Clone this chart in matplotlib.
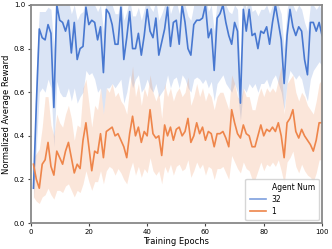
import numpy as np
import matplotlib
matplotlib.use("Agg")
import matplotlib.pyplot as plt
from matplotlib.lines import Line2D

### Data (epochs 1..100)
epochs = np.arange(1, 101)

# Agent Num = 32
mean_32 = [0.16, 0.55, 0.89, 0.85, 0.84, 0.91, 0.87, 0.53, 1.00, 0.93,
           0.92, 0.88, 0.93, 0.78, 0.92, 0.75, 0.80, 0.81, 0.99, 0.91,
           0.93, 0.92, 0.84, 0.90, 0.69, 0.98, 0.96, 0.91, 0.82, 0.82,
           0.99, 0.75, 0.85, 0.97, 0.80, 0.80, 0.87, 0.77, 0.86, 0.98,
           0.88, 0.85, 0.94, 0.77, 0.83, 0.89, 0.99, 0.81, 0.92, 0.93,
           0.82, 1.00, 0.92, 0.80, 0.77, 0.91, 0.93, 0.93, 0.94, 1.00,
           0.85, 0.89, 0.70, 0.94, 0.96, 1.00, 0.92, 0.86, 0.82, 0.92,
           0.88, 0.55, 0.98, 0.88, 0.98, 0.86, 0.87, 0.80, 0.88, 0.87,
           0.90, 0.82, 0.92, 1.00, 0.92, 0.84, 0.64, 0.86, 0.98, 0.90,
           0.86, 0.90, 0.88, 0.75, 0.68, 0.92, 0.92, 0.88, 0.92, 0.86]
lo_32 = [0.11, 0.35, 0.60, 0.62, 0.60, 0.66, 0.62, 0.35, 0.65, 0.60,
         0.58, 0.58, 0.62, 0.56, 0.62, 0.55, 0.58, 0.60, 0.70, 0.68,
         0.69, 0.66, 0.60, 0.62, 0.50, 0.62, 0.62, 0.64, 0.62, 0.64,
         0.66, 0.55, 0.60, 0.68, 0.62, 0.66, 0.68, 0.60, 0.62, 0.66,
         0.62, 0.60, 0.64, 0.58, 0.60, 0.62, 0.68, 0.62, 0.66, 0.67,
         0.62, 0.68, 0.66, 0.62, 0.60, 0.66, 0.67, 0.66, 0.64, 0.66,
         0.62, 0.65, 0.56, 0.64, 0.66, 0.68, 0.64, 0.62, 0.60, 0.64,
         0.60, 0.47, 0.62, 0.60, 0.64, 0.62, 0.64, 0.60, 0.64, 0.64,
         0.66, 0.62, 0.66, 0.68, 0.64, 0.60, 0.52, 0.64, 0.70, 0.68,
         0.66, 0.68, 0.66, 0.60, 0.56, 0.66, 0.70, 0.72, 0.74, 0.72]
hi_32 = [0.22, 0.72, 0.97, 0.97, 0.97, 0.99, 0.98, 0.80, 1.05, 1.02,
         1.00, 1.00, 1.02, 0.96, 1.00, 0.93, 0.96, 0.97, 1.05, 1.00,
         1.02, 1.00, 0.97, 1.00, 0.88, 1.04, 1.02, 1.00, 0.96, 0.96,
         1.04, 0.93, 0.97, 1.03, 0.95, 0.95, 0.99, 0.93, 0.98, 1.04,
         0.99, 0.97, 1.02, 0.93, 0.96, 1.00, 1.05, 0.96, 1.00, 1.02,
         0.96, 1.05, 1.00, 0.95, 0.93, 1.00, 1.02, 1.02, 1.02, 1.05,
         0.97, 1.00, 0.88, 1.02, 1.03, 1.05, 1.00, 0.97, 0.96, 1.00,
         0.98, 0.70, 1.04, 0.98, 1.04, 0.97, 0.98, 0.95, 0.98, 0.98,
         1.00, 0.96, 1.00, 1.05, 1.00, 0.96, 0.80, 0.98, 1.04, 1.00,
         0.97, 1.00, 0.98, 0.92, 0.88, 1.00, 1.00, 0.98, 1.00, 0.97]

# Agent Num = 1
mean_1 = [0.27, 0.20, 0.16, 0.27, 0.29, 0.37, 0.26, 0.22, 0.33, 0.30,
          0.27, 0.33, 0.37, 0.30, 0.23, 0.27, 0.25, 0.38, 0.46, 0.35,
          0.24, 0.33, 0.32, 0.41, 0.30, 0.42, 0.43, 0.44, 0.40, 0.41,
          0.38, 0.35, 0.30, 0.41, 0.49, 0.40, 0.44, 0.37, 0.42, 0.40,
          0.52, 0.41, 0.39, 0.40, 0.31, 0.45, 0.40, 0.44, 0.38, 0.43,
          0.44, 0.40, 0.42, 0.48, 0.37, 0.40, 0.46, 0.41, 0.44, 0.38,
          0.42, 0.41, 0.35, 0.41, 0.41, 0.42, 0.39, 0.35, 0.52, 0.46,
          0.41, 0.39, 0.45, 0.41, 0.40, 0.35, 0.35, 0.40, 0.45, 0.40,
          0.43, 0.42, 0.44, 0.42, 0.46, 0.40, 0.30, 0.46, 0.48, 0.52,
          0.42, 0.39, 0.43, 0.40, 0.38, 0.36, 0.33, 0.38, 0.46, 0.46]
lo_1 = [0.12, 0.10, 0.09, 0.12, 0.13, 0.16, 0.13, 0.11, 0.15, 0.15,
        0.14, 0.17, 0.18, 0.15, 0.12, 0.15, 0.14, 0.18, 0.24, 0.19,
        0.15, 0.19, 0.19, 0.24, 0.18, 0.24, 0.26, 0.25, 0.22, 0.25,
        0.23, 0.20, 0.18, 0.24, 0.28, 0.22, 0.26, 0.21, 0.25, 0.23,
        0.30, 0.24, 0.22, 0.24, 0.18, 0.26, 0.23, 0.27, 0.22, 0.26,
        0.27, 0.24, 0.25, 0.29, 0.21, 0.24, 0.28, 0.25, 0.27, 0.22,
        0.26, 0.25, 0.20, 0.25, 0.25, 0.26, 0.23, 0.20, 0.31, 0.28,
        0.25, 0.23, 0.28, 0.25, 0.24, 0.20, 0.20, 0.24, 0.28, 0.24,
        0.27, 0.26, 0.28, 0.26, 0.29, 0.24, 0.18, 0.28, 0.30, 0.33,
        0.26, 0.23, 0.27, 0.24, 0.22, 0.21, 0.19, 0.23, 0.29, 0.29]
hi_1 = [0.30, 0.32, 0.34, 0.44, 0.58, 0.58, 0.45, 0.40, 0.50, 0.46,
        0.44, 0.50, 0.54, 0.48, 0.38, 0.45, 0.44, 0.62, 0.66, 0.55,
        0.44, 0.54, 0.52, 0.62, 0.50, 0.62, 0.60, 0.64, 0.58, 0.60,
        0.56, 0.54, 0.50, 0.62, 0.72, 0.58, 0.64, 0.54, 0.62, 0.58,
        0.68, 0.60, 0.56, 0.60, 0.48, 0.64, 0.58, 0.62, 0.56, 0.60,
        0.62, 0.58, 0.60, 0.67, 0.54, 0.58, 0.64, 0.58, 0.62, 0.56,
        0.60, 0.58, 0.52, 0.58, 0.60, 0.60, 0.56, 0.52, 0.68, 0.64,
        0.58, 0.56, 0.62, 0.58, 0.58, 0.52, 0.52, 0.58, 0.62, 0.58,
        0.62, 0.60, 0.62, 0.60, 0.66, 0.72, 0.50, 0.64, 0.66, 0.68,
        0.60, 0.56, 0.60, 0.58, 0.54, 0.52, 0.50, 0.56, 0.64, 0.66]

blue = '#4878d0'
orange = '#ee854a'

### Plotting
fig = plt.figure(figsize=(3.32, 2.49), dpi=100)
ax = fig.add_axes([0.092, 0.104, 0.878, 0.876])

ax.fill_between(epochs, lo_32, hi_32, color=blue, alpha=0.2, linewidth=0)
ax.plot(epochs, mean_32, color=blue, linewidth=1.2)
ax.fill_between(epochs, lo_1, hi_1, color=orange, alpha=0.2, linewidth=0)
ax.plot(epochs, mean_1, color=orange, linewidth=1.2)

ax.set_xlim(0, 100)
ax.set_ylim(0, 1.0)
ax.set_xticks([0, 20, 40, 60, 80, 100])
ax.set_yticks([0.0, 0.2, 0.4, 0.6, 0.8, 1.0])
ax.tick_params(labelsize=5, length=2.5, width=0.8, color='#444444', pad=1.5)
ax.set_xlabel('Training Epochs', fontsize=6, labelpad=2)
ax.set_ylabel('Normalized Average Reward', fontsize=6, labelpad=2)
for s in ax.spines.values():
    s.set_color('#888888')
    s.set_linewidth(1.3)

# legend in old seaborn style: title as first blank entry
handles = [Line2D([], [], color='none'),
           Line2D([], [], color=blue, alpha=0.7, linewidth=1.2),
           Line2D([], [], color=orange, linewidth=1.2)]
labels = ['Agent Num', '32', '1']
ax.legend(handles, labels, loc='lower right', fontsize=5.5, handlelength=2.2,
          borderpad=0.55, labelspacing=0.4, handletextpad=0.7,
          borderaxespad=0.4, framealpha=0.8, edgecolor='#cccccc',
          fancybox=True)

plt.savefig('out.png', dpi=100)
